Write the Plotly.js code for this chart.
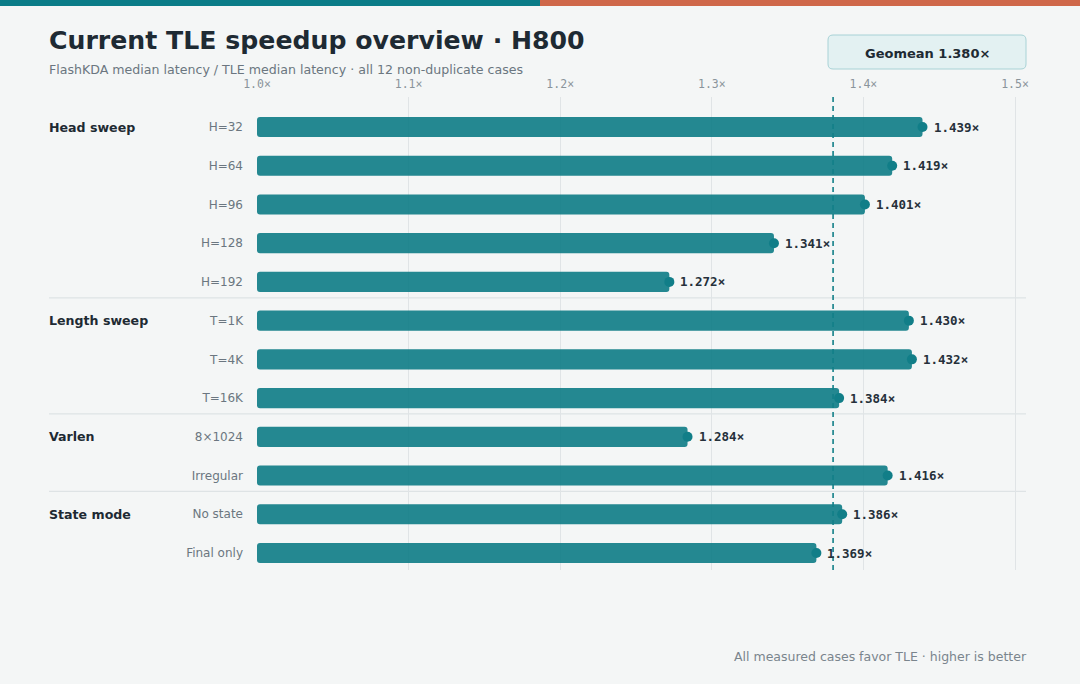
<!DOCTYPE html>
<html>
<head>
<meta charset="utf-8">
<script src="https://cdn.plot.ly/plotly-3.0.1.min.js"></script>
<style>
  html, body { margin: 0; padding: 0; background: #F4F6F6; }
  #chart { width: 1080px; height: 684px; }
</style>
</head>
<body>
<div id="chart"></div>
<script>
// Speedup per benchmark case (FlashKDA median latency / TLE median latency)
const groups = ["Head sweep", "", "", "", "", "Length sweep", "", "", "Varlen", "", "State mode", ""];
const cases = ["H=32", "H=64", "H=96", "H=128", "H=192", "T=1K", "T=4K", "T=16K", "8×1024", "Irregular", "No state", "Final only"];
const speedups = [1.439, 1.419, 1.401, 1.341, 1.272, 1.430, 1.432, 1.384, 1.284, 1.416, 1.386, 1.369];
const geomean = 1.380;
const xTicks = [1.0, 1.1, 1.2, 1.3, 1.4, 1.5];
const groupBreaks = [4.41, 7.41, 9.41];

// plot-area geometry in pixels
const L = 257, R = 1026, T = 97, B = 570, W = 1080, H = 684;
const PW = R - L, PH = B - T;
const px = v => (v - L) / PW;          // pixel x -> paper x
const py = v => (B - v) / PH;          // pixel y -> paper y

const rows = cases.map((_, i) => i);
const teal = "#117E88";
const ink = "#1E2A33";
const muted = "#6B7680";

function roundRect(x0, y0, x1, y1, r) {
  const rx = r / PW, ry = r / PH;
  const a = px(x0), b = px(x1), top = py(y0), bot = py(y1);
  return `M${a + rx},${top} L${b - rx},${top} Q${b},${top} ${b},${top - ry} ` +
         `L${b},${bot + ry} Q${b},${bot} ${b - rx},${bot} L${a + rx},${bot} ` +
         `Q${a},${bot} ${a},${bot + ry} L${a},${top - ry} Q${a},${top} ${a + rx},${top} Z`;
}

const bars = {
  type: "bar",
  orientation: "h",
  y: rows,
  x: speedups.map(v => v - 1),
  base: 1,
  width: 0.52,
  marker: { color: teal, opacity: 0.92, cornerradius: 3, line: { width: 0 } },
  hoverinfo: "skip",
  showlegend: false
};

const ends = {
  type: "scatter",
  mode: "markers",
  y: rows,
  x: speedups,
  marker: { color: teal, size: 10 },
  cliponaxis: false,
  hoverinfo: "skip",
  showlegend: false
};

const shapes = [
  // accent stripe
  { type: "rect", xref: "paper", yref: "paper", x0: px(0), x1: px(540), y0: py(6), y1: py(0),
    fillcolor: "#0A7C88", line: { width: 0 }, layer: "below" },
  { type: "rect", xref: "paper", yref: "paper", x0: px(540), x1: px(W), y0: py(6), y1: py(0),
    fillcolor: "#CF684A", line: { width: 0 }, layer: "below" },
  // geomean badge
  { type: "path", xref: "paper", yref: "paper", path: roundRect(828, 35, 1026, 69, 5),
    fillcolor: "#E3F1F2", line: { color: "#A8D2D6", width: 1 }, layer: "below" },
  // geomean reference line
  { type: "line", xref: "x", yref: "paper", x0: geomean, x1: geomean, y0: 0, y1: 1,
    line: { color: "#137F88", width: 1.6, dash: "5px,4px" }, layer: "above" }
];
groupBreaks.forEach(g => shapes.push({
  type: "line", xref: "paper", yref: "y", x0: px(49), x1: 1, y0: g, y1: g,
  line: { color: "#DEE3E5", width: 1.3 }, layer: "below"
}));

const annotations = [
  { xref: "paper", yref: "paper", x: px(49), y: py(69), xanchor: "left", yanchor: "middle", xshift: -2,
    text: "FlashKDA median latency / TLE median latency · all 12 non-duplicate cases",
    showarrow: false, font: { family: "DejaVu Sans", size: 12.6, color: muted } },
  { xref: "paper", yref: "paper", x: px(927), y: py(53), xanchor: "center", yanchor: "middle",
    text: "<b>Geomean " + geomean.toFixed(3) + "×</b>",
    showarrow: false, font: { family: "DejaVu Sans", size: 13, color: ink } },
  { xref: "paper", yref: "paper", x: 1, y: py(656), xanchor: "right", yanchor: "middle", xshift: 3,
    text: "All measured cases favor TLE · higher is better",
    showarrow: false, font: { family: "DejaVu Sans", size: 12.5, color: "#7A858D" } }
];
groups.forEach((g, i) => {
  if (!g) return;
  annotations.push({ xref: "paper", yref: "y", x: px(49), y: i, xanchor: "left", yanchor: "middle", xshift: -2,
    text: "<b>" + g + "</b>", showarrow: false,
    font: { family: "DejaVu Sans", size: 12.6, color: ink } });
});
// value labels beside each bar end
speedups.forEach((v, i) => {
  annotations.push({ xref: "x", yref: "y", x: v, y: i, xanchor: "left", yanchor: "middle", xshift: 9,
    text: "<b>" + v.toFixed(3) + "×</b>", showarrow: false,
    font: { family: "DejaVu Sans Mono", size: 12.5, color: "#25303A" } });
});

const layout = {
  width: W, height: H,
  paper_bgcolor: "#F4F6F6",
  plot_bgcolor: "#F4F6F6",
  margin: { l: L, r: W - R, t: T, b: H - B, pad: 0 },
  title: {
    text: "<b>Current TLE speedup overview · H800</b>",
    xref: "container", yref: "container",
    x: 49 / W, y: 1 - 40 / H, xanchor: "left", yanchor: "middle",
    font: { family: "DejaVu Sans", size: 25.2, color: ink }
  },
  xaxis: {
    side: "top",
    range: [1.0, 1.0 + PW / 1516],
    tickvals: xTicks,
    ticktext: xTicks.map(v => v.toFixed(1) + "×"),
    tickfont: { family: "DejaVu Sans Mono", size: 11.5, color: "#8A949B" },
    ticks: "", ticklabelstandoff: 6,
    showgrid: true, gridcolor: "#E0E4E6", gridwidth: 1,
    zeroline: false, showline: false, fixedrange: true
  },
  yaxis: {
    range: [11 + 17 / 38.73, -30 / 38.73],
    tickvals: rows,
    ticktext: cases,
    tickfont: { family: "DejaVu Sans", size: 12, color: muted },
    ticks: "", ticklabelstandoff: 13,
    showgrid: false, zeroline: false, showline: false, fixedrange: true
  },
  bargap: 0.48,
  shapes: shapes,
  annotations: annotations
};

Plotly.newPlot("chart", [bars, ends], layout, { displayModeBar: false, staticPlot: true });
</script>
</body>
</html>
